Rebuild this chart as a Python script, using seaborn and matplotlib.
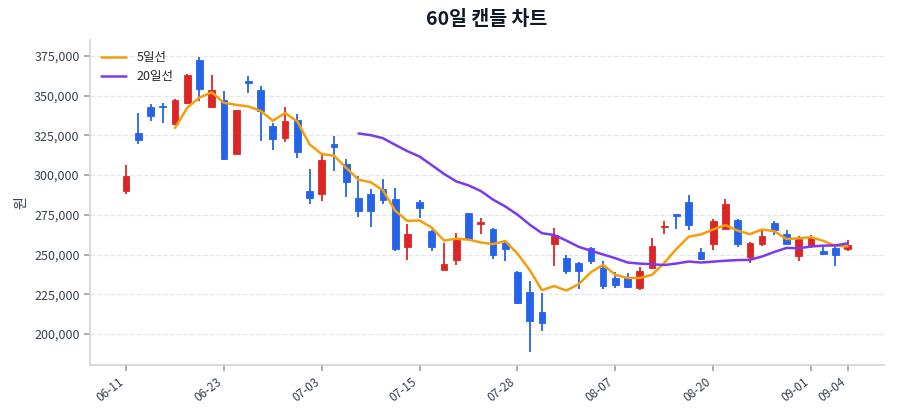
import pandas as pd
import matplotlib
matplotlib.use("Agg")
import matplotlib.pyplot as plt
import seaborn as sns
from matplotlib.ticker import StrMethodFormatter

# 60 trading days (Jul 17 is missing in the source data)
dates = ['06-11', '06-12', '06-13', '06-16', '06-17', '06-18', '06-19', '06-20',
         '06-23', '06-24', '06-25', '06-26', '06-27', '06-30', '07-01', '07-02',
         '07-03', '07-04', '07-07', '07-08', '07-09', '07-10', '07-11', '07-14',
         '07-15', '07-16', '07-18', '07-21', '07-22', '07-23', '07-24', '07-25',
         '07-28', '07-29', '07-30', '07-31', '08-01', '08-04', '08-05', '08-06',
         '08-07', '08-08', '08-11', '08-12', '08-13', '08-14', '08-18', '08-19',
         '08-20', '08-21', '08-22', '08-25', '08-26', '08-27', '08-28', '08-29',
         '09-01', '09-02', '09-03', '09-04']

opens = [290200, 326500, 342700, 343700, 331900, 345200, 372500, 342700, 347500, 313500,
         358900, 353700, 330800, 323100, 334400, 290200, 288100, 319800, 306900, 285400,
         288300, 291000, 284800, 254600, 283300, 264600, 240400, 246700, 275800, 269200,
         265800, 257200, 238800, 226300, 213800, 256800, 248000, 244700, 254100, 241600,
         235400, 235600, 228800, 241300, 267300, 275200, 282900, 251700, 256900, 266300,
         271900, 248500, 256300, 270000, 262700, 249000, 255400, 252300, 254200, 253300]
highs = [306300, 339200, 344800, 345400, 347900, 363800, 374400, 363100, 352700, 341000,
         362100, 355800, 332900, 342700, 338500, 303500, 312700, 324400, 309800, 299600,
         291000, 297300, 292100, 269200, 284200, 265400, 257300, 263300, 276300, 272700,
         266500, 258900, 239700, 233600, 225900, 266600, 249500, 245200, 254700, 245700,
         238800, 238100, 242300, 260400, 270800, 275600, 287500, 254400, 272500, 285000,
         272300, 257900, 265200, 270800, 265600, 261500, 262500, 255200, 254800, 259000]
lows = [288100, 319800, 334000, 332700, 331500, 344600, 346500, 342300, 309500, 313000,
        351700, 321500, 315800, 320800, 311000, 281500, 283600, 302700, 286100, 273600,
        267100, 281700, 252500, 246700, 272900, 252100, 240000, 243100, 259500, 262900,
        247400, 245900, 218800, 188900, 202100, 242800, 238000, 228000, 243900, 228000,
        229200, 228800, 227700, 240800, 262700, 266300, 265200, 246500, 252700, 266000,
        254800, 244800, 255400, 262500, 255800, 246000, 253800, 249600, 242900, 252300]
closes = [299400, 321900, 337100, 343000, 346900, 362900, 353800, 353500, 310000, 340600,
          357700, 340200, 322500, 334000, 314200, 285600, 309400, 317700, 295400, 277300,
          277500, 284200, 253500, 262900, 279000, 254600, 243800, 259400, 259800, 270200,
          249500, 253700, 219600, 208300, 206700, 262400, 239500, 239700, 245700, 230300,
          230800, 229800, 239600, 255600, 268100, 274400, 268300, 246900, 271000, 281900,
          256900, 257300, 261700, 265600, 256900, 259600, 260600, 250200, 249600, 255800]

df = pd.DataFrame({'date': dates, 'open': opens, 'high': highs,
                   'low': lows, 'close': closes})
df['idx'] = range(len(df))
df['ma5'] = df['close'].rolling(5).mean()
df['ma20'] = df['close'].rolling(20).mean()

UP = '#dc2626'
DOWN = '#2563eb'

sns.set_theme(style='whitegrid')
plt.rcParams['font.family'] = ['Noto Sans CJK KR', 'DejaVu Sans']

fig = plt.figure(figsize=(9, 4.2), dpi=100)
ax = fig.add_axes([0.1, 0.131, 0.882, 0.774])

colors = [UP if c >= o else DOWN for o, c in zip(df['open'], df['close'])]

# wicks
ax.vlines(df['idx'], df['low'], df['high'], colors=colors, linewidth=1.3, zorder=2)
# bodies
body_bottom = df[['open', 'close']].min(axis=1)
body_height = (df['close'] - df['open']).abs().clip(lower=600)
ax.bar(df['idx'], body_height, bottom=body_bottom, width=0.55,
       color=colors, edgecolor=colors, linewidth=0.6, zorder=3)

# moving averages
sns.lineplot(data=df, x='idx', y='ma5', ax=ax, color='#f59e0b', linewidth=1.8,
             label='5일선', zorder=4)
sns.lineplot(data=df, x='idx', y='ma20', ax=ax, color='#7c3aed', linewidth=1.8,
             label='20일선', zorder=4)

tick_idx = list(range(0, len(df), 8)) + [len(df) - 1]
ax.set_xticks(tick_idx)
ax.set_xticklabels([dates[i] for i in tick_idx], rotation=38, ha='right',
                   fontsize=8.5, color='#374151')
ax.set_xlim(-2.95, len(df) - 1 + 2.95)
ax.set_ylim(180500, 385000)
ax.yaxis.set_major_formatter(StrMethodFormatter('{x:,.0f}'))
ax.tick_params(axis='y', labelsize=9, colors='#374151', left=True, length=4,
               color='#9ca3af')
ax.tick_params(axis='x', bottom=True, length=4, color='#9ca3af')

ax.grid(axis='x', visible=False)
ax.grid(axis='y', linestyle='--', color='#e5e7eb', linewidth=0.9)
for side in ['top', 'right']:
    ax.spines[side].set_visible(False)
for side in ['left', 'bottom']:
    ax.spines[side].set_color('#d1d5db')

ax.set_xlabel('')
ax.set_ylabel('원', fontsize=10, color='#374151')
ax.set_title('60일 캔들 차트', fontsize=14, fontweight='bold', color='#111827', pad=11)
ax.legend(loc='upper left', frameon=False, fontsize=9)

fig.savefig('out.png', dpi=100)
